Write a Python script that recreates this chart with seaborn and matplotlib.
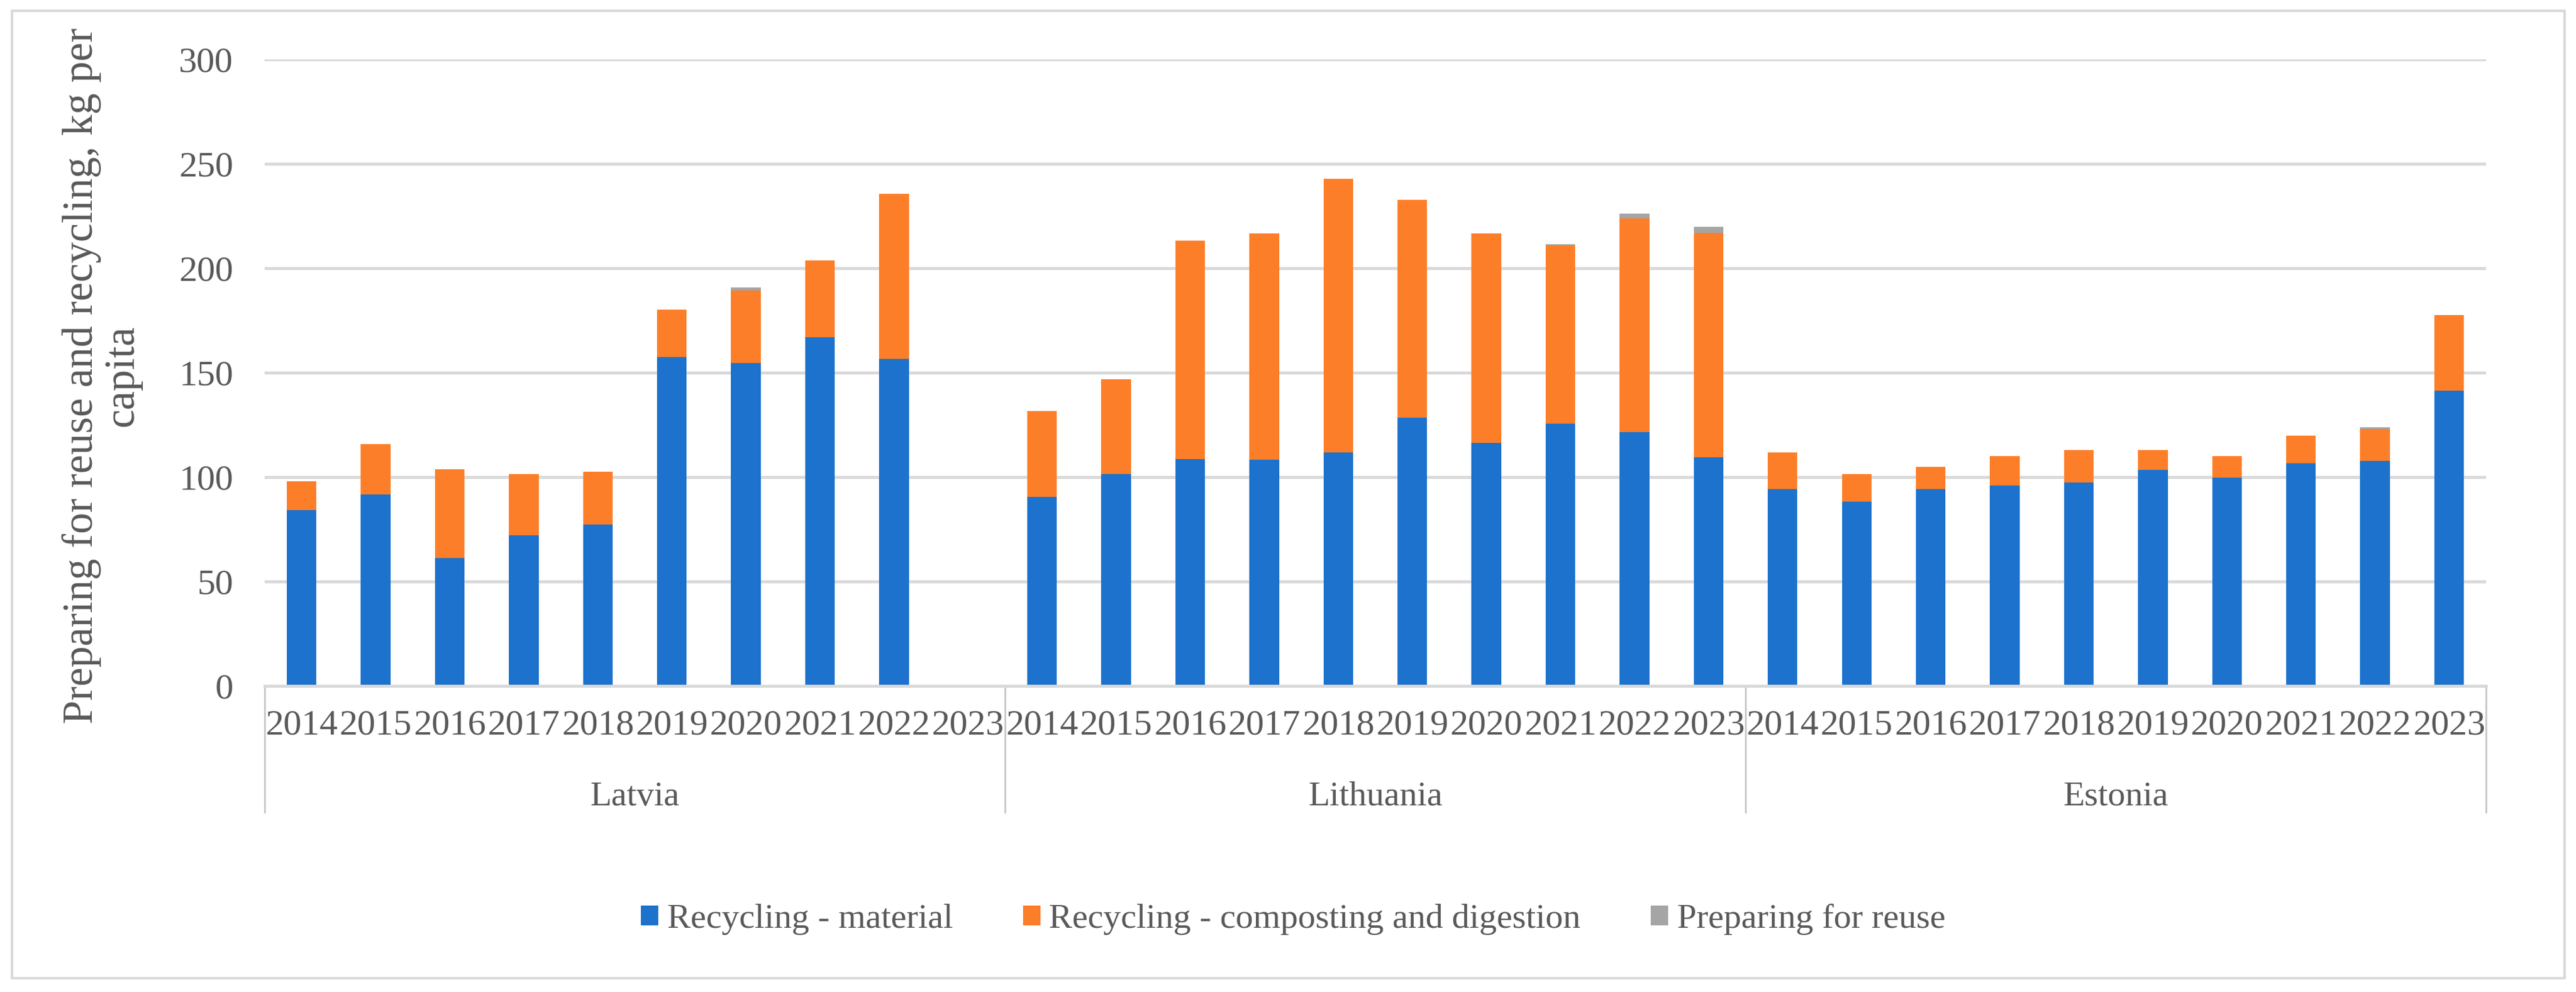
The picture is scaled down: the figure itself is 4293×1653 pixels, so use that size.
import numpy as np
import pandas as pd
import matplotlib
matplotlib.use("Agg")
import matplotlib.pyplot as plt
import matplotlib.transforms as mtransforms
from matplotlib.patches import Patch, Rectangle
import seaborn as sns

sns.set_theme(style="white")
plt.rcParams['font.family'] = ['Liberation Serif', 'DejaVu Serif']

# values (kg per capita)
years = [2014, 2015, 2016, 2017, 2018, 2019, 2020, 2021, 2022, 2023]
countries = ["Latvia", "Lithuania", "Estonia"]

latvia_material = [84.3, 91.6, 61.2, 72.0, 77.3, 157.6, 154.7, 166.9, 156.5, np.nan]
latvia_compost = [13.6, 24.2, 42.5, 29.5, 25.3, 22.5, 34.8, 36.9, 79.2, np.nan]
latvia_reuse = [0, 0, 0, 0, 0, 0, 1.3, 0, 0, np.nan]

lithuania_material = [90.5, 101.5, 108.5, 108.3, 111.8, 128.5, 116.4, 125.7, 121.7, 109.6]
lithuania_compost = [41.1, 45.3, 104.6, 108.5, 131.0, 104.4, 100.4, 85.2, 102.2, 107.4]
lithuania_reuse = [0, 0, 0, 0, 0, 0, 0, 0.6, 2.2, 2.9]

estonia_material = [94.4, 88.3, 94.4, 96.0, 97.5, 103.5, 99.7, 106.5, 107.9, 141.5]
estonia_compost = [17.4, 13.2, 10.4, 14.1, 15.4, 9.4, 10.4, 13.2, 15.1, 36.1]
estonia_reuse = [0, 0, 0, 0, 0, 0, 0, 0, 0.9, 0]

series_names = ["Recycling - material", "Recycling - composting and digestion", "Preparing for reuse"]
colors = ["#1C72CC", "#FD7E29", "#A5A5A5"]
text_col = "#595959"
grid_col = "#D9D9D9"

rows = []
data = {
    "Latvia": (latvia_material, latvia_compost, latvia_reuse),
    "Lithuania": (lithuania_material, lithuania_compost, lithuania_reuse),
    "Estonia": (estonia_material, estonia_compost, estonia_reuse),
}
for c in countries:
    m, k, r = data[c]
    for i, y in enumerate(years):
        rows.append({"country": c, "year": y, "key": f"{c} {y}",
                     "material": m[i], "compost": k[i], "reuse": r[i]})
df = pd.DataFrame(rows)
order = list(df["key"])
df = df.dropna()
df["lvl2"] = df["material"] + df["compost"]
df["lvl3"] = df["lvl2"] + df["reuse"]

fig = plt.figure(figsize=(14.31, 5.51), dpi=300)
ax = fig.add_axes([0.1027, 0.3085, 0.9651 - 0.1027, 0.9401 - 0.3085])

# stacked bars: draw cumulative totals back to front
for col, colr in zip(["lvl3", "lvl2", "material"], colors[::-1]):
    sns.barplot(data=df, x="key", y=col, order=order, color=colr, width=0.4,
                saturation=1, errorbar=None, linewidth=0, ax=ax)

ax.set_ylim(0, 300)
ax.set_xlim(-0.5, len(order) - 0.5)
ax.set_yticks(range(0, 301, 50))
ax.yaxis.grid(True, color=grid_col, linewidth=1.2)
ax.set_axisbelow(True)
for s in ["top", "right", "left"]:
    ax.spines[s].set_visible(False)
ax.spines["bottom"].set_color(grid_col)
ax.spines["bottom"].set_linewidth(1.2)

ax.set_xticks(range(len(order)))
ax.set_xticklabels([str(y) for y in years] * len(countries))
ax.tick_params(axis="x", length=0, pad=9.5, labelsize=14.5, labelcolor=text_col)
ax.tick_params(axis="y", length=0, pad=12.5, labelsize=14.5, labelcolor=text_col)
ax.set_xlabel("")
ax.set_ylabel("")

# multi-level category axis
trans = mtransforms.blended_transform_factory(ax.transData, ax.transAxes)
for b in [-0.5, 9.5, 19.5, 29.5]:
    ax.plot([b, b], [0, -0.202], transform=trans, color="#C8C8C8", lw=0.7, clip_on=False)
for i, c in enumerate(countries):
    ax.text(i * 10 + 4.5, -0.177, c, transform=trans, ha="center", va="center",
            fontsize=14, color=text_col)

fig.text(0.0396, 0.621, "Preparing for reuse and recycling, kg per\ncapita", rotation=90,
         ha="center", va="center", fontsize=17, color=text_col, linespacing=1.05)

handles = [Patch(facecolor=c, edgecolor="none") for c in colors]
fig.legend(handles, series_names, loc="center", bbox_to_anchor=(0.502, 0.073), ncol=3,
           frameon=False, fontsize=14, labelcolor=text_col, handlelength=0.5,
           handleheight=0.5, handletextpad=0.25, columnspacing=2.0)

fig.patches.append(Rectangle((20 / 4293, 23 / 1653), (4274 - 20) / 4293, (1635 - 23) / 1653,
                             transform=fig.transFigure, fill=False, edgecolor=grid_col,
                             linewidth=1.0, zorder=0))

fig.savefig("out.png", dpi=300, facecolor="white")
